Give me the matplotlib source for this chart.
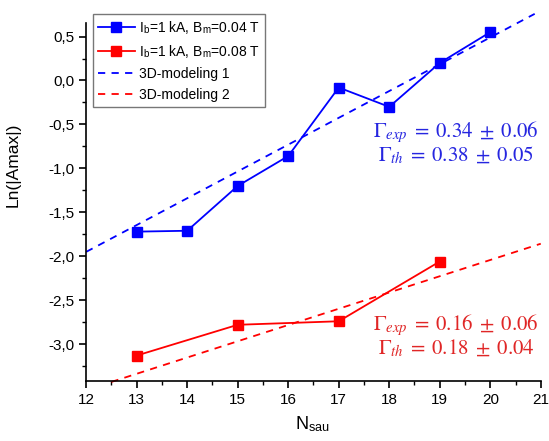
import numpy as np
import matplotlib
matplotlib.use("Agg")
import matplotlib.pyplot as plt
from matplotlib.ticker import MultipleLocator, FuncFormatter

# data
n_sau_1 = [13, 14, 15, 16, 17, 18, 19, 20]
ln_amax_1 = [-1.72, -1.71, -1.20, -0.86, -0.08, -0.30, 0.20, 0.55]

n_sau_2 = [13, 15, 17, 19]
ln_amax_2 = [-3.13, -2.78, -2.74, -2.06]

# 3D-modeling lines: (x_start, x_end, intercept at x_start, slope)
fit_1 = (12.0, 20.88, -1.95, 0.305)
fit_2 = (12.5, 21.0, -3.43, 0.185)

label_1 = r"I$_\mathregular{b}$=1 kA, B$_\mathregular{m}$=0.04 T"
label_2 = r"I$_\mathregular{b}$=1 kA, B$_\mathregular{m}$=0.08 T"
note_1 = [r"$\Gamma_{exp}\;=\;0.34\;\pm\;0.06$", r"$\Gamma_{th}\;=\;0.38\;\pm\;0.05$"]
note_2 = [r"$\Gamma_{exp}\;=\;0.16\;\pm\;0.06$", r"$\Gamma_{th}\;=\;0.18\;\pm\;0.04$"]

BLUE = "#0000ff"
RED = "#ff0000"

plt.rcParams["font.family"] = ["Liberation Sans", "DejaVu Sans"]
plt.rcParams["mathtext.fontset"] = "stix"


def fit_line(fit):
    x0, x1, y0, k = fit
    x = np.array([x0, x1])
    return x, y0 + k * (x - x0)


fig = plt.figure(figsize=(5.49, 4.41), dpi=100)
ax = fig.add_axes([0.157, 0.136, 0.828, 0.812])

ax.plot(n_sau_1, ln_amax_1, "-s", color=BLUE, lw=1.3, ms=7, label=label_1)
ax.plot(n_sau_2, ln_amax_2, "-s", color=RED, lw=1.3, ms=7, label=label_2)

fx, fy = fit_line(fit_1)
ax.plot(fx, fy, color=BLUE, lw=1.3, ls=(0, (4, 3.5)), clip_on=False,
        label="3D-modeling 1")
fx, fy = fit_line(fit_2)
ax.plot(fx, fy, color=RED, lw=1.3, ls=(0, (4, 3.5)), clip_on=False,
        label="3D-modeling 2")

ax.set_xlim(12, 21)
ax.set_ylim(-3.42, 0.655)
ax.xaxis.set_major_locator(MultipleLocator(1))
ax.xaxis.set_minor_locator(MultipleLocator(0.5))
ax.yaxis.set_major_locator(MultipleLocator(0.5))
ax.yaxis.set_minor_locator(MultipleLocator(0.25))
ax.yaxis.set_major_formatter(FuncFormatter(lambda v, p: f"{v:.1f}".replace(".", ",")))

for s in ("top", "right"):
    ax.spines[s].set_visible(False)
for s in ("left", "bottom"):
    ax.spines[s].set_linewidth(1.2)
ax.tick_params(which="major", direction="out", length=5, width=1.2, labelsize=11)
ax.tick_params(which="minor", direction="out", length=3, width=1.0)

ax.set_xlabel(r"N$_\mathregular{sau}$", fontsize=13)
ax.set_ylabel("Ln(|Amax|)", fontsize=12.5)
ax.xaxis.set_label_coords(0.497, -0.095)
ax.yaxis.set_label_coords(-0.145, 0.603)

for i, t in enumerate(note_1):
    ax.text(0.814, 0.695 - i * 0.064, t, transform=ax.transAxes, ha="center",
            va="center", color="#2626e0", fontsize=15)
for i, t in enumerate(note_2):
    ax.text(0.814, 0.156 - i * 0.064, t, transform=ax.transAxes, ha="center",
            va="center", color="#e02626", fontsize=15)

leg = fig.legend(loc="upper left", bbox_to_anchor=(0.169, 0.968), fontsize=10,
                 frameon=True, fancybox=False, edgecolor="#555555",
                 handlelength=2.7, handletextpad=0.3, borderpad=0.35,
                 labelspacing=0.5, borderaxespad=0)
leg.get_frame().set_linewidth(1.0)

fig.savefig("out.png", dpi=100)
